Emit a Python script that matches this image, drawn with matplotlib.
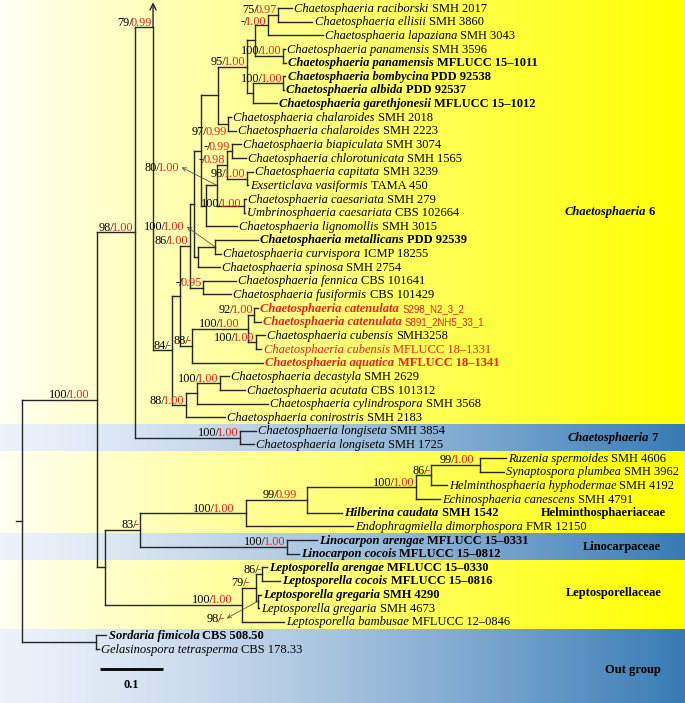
import matplotlib.pyplot as plt
import numpy as np
from matplotlib.collections import LineCollection

# ---- tip labels, top to bottom ----
taxa = [
    "Chaetosphaeria raciborski", "Chaetosphaeria ellisii", "Chaetosphaeria lapaziana",
    "Chaetosphaeria panamensis", "Chaetosphaeria panamensis", "Chaetosphaeria bombycina",
    "Chaetosphaeria albida", "Chaetosphaeria garethjonesii", "Chaetosphaeria chalaroides",
    "Chaetosphaeria chalaroides", "Chaetosphaeria biapiculata", "Chaetosphaeria chlorotunicata",
    "Chaetosphaeria capitata", "Exserticlava vasiformis", "Chaetosphaeria caesariata",
    "Umbrinosphaeria caesariata", "Chaetosphaeria lignomollis", "Chaetosphaeria metallicans",
    "Chaetosphaeria curvispora", "Chaetosphaeria spinosa", "Chaetosphaeria fennica",
    "Chaetosphaeria fusiformis", "Chaetosphaeria catenulata", "Chaetosphaeria catenulata",
    "Chaetosphaeria cubensis", "Chaetosphaeria cubensis", "Chaetosphaeria aquatica",
    "Chaetosphaeria decastyla", "Chaetosphaeria acutata", "Chaetosphaeria cylindrospora",
    "Chaetosphaeria conirostris", "Chaetosphaeria longiseta", "Chaetosphaeria longiseta",
    "Ruzenia spermoides", "Synaptospora plumbea", "Helminthosphaeria hyphodermae",
    "Echinosphaeria canescens", "Hilberina caudata", "Endophragmiella dimorphospora",
    "Linocarpon arengae", "Linocarpon cocois", "Leptosporella arengae", "Leptosporella cocois",
    "Leptosporella gregaria", "Leptosporella gregaria", "Leptosporella bambusae",
    "Sordaria fimicola", "Gelasinospora tetrasperma",
]
strains = [
    "SMH 2017", "SMH 3860", "SMH 3043", "SMH 3596", "MFLUCC 15\u20131011", "PDD 92538",
    "PDD 92537", "MFLUCC 15\u20131012", "SMH 2018", "SMH 2223", "SMH 3074", "SMH 1565",
    "SMH 3239", "TAMA 450", "SMH 279", "CBS 102664", "SMH 3015", "PDD 92539",
    "ICMP 18255", "SMH 2754", "CBS 101641", "CBS 101429", "S298_N2_3_2", "S891_2NH5_33_1",
    "SMH3258", "MFLUCC 18\u20131331", "MFLUCC 18\u20131341", "SMH 2629", "CBS 101312", "SMH 3568",
    "SMH 2183", "SMH 3854", "SMH 1725", "SMH 4606", "SMH 3962", "SMH 4192", "SMH 4791",
    "SMH 1542", "FMR 12150", "MFLUCC 15\u20130331", "MFLUCC 15\u20130812", "MFLUCC 15\u20130330",
    "MFLUCC 15\u20130816", "SMH 4290", "SMH 4673", "MFLUCC 12\u20130846", "CBS 508.50", "CBS 178.33",
]
# n plain, b bold, c red bold + sans code, s red plain, r red bold
kinds = list("nnnn" + "bbbb" + "nnnnnnnnn" + "b" + "nnnn" + "cc" + "n" + "s" + "r"
             + "nnnnnnnnnn" + "b" + "n" + "bbbbb" + "nn" + "b" + "n")

# ---- tree: (child, parent, branch length) ----
edges = [
    ("I", "R", 0.119), ("O", "R", 0.117), (46, "O", 0.017), (47, "O", 0.005),
    ("C", "I", 0.060), ("HLL", "I", 0.013),
    ("N79", "C", 0.029), ("Nlong", "C", 0.167), (31, "Nlong", 0.025), (32, "Nlong", 0.022),
    ("N84", "N79", 0.030),
    ("N180", "N84", 0.013), ("N88b", "N84", 0.022),
    ("N190", "N180", 0.016), ("N88m", "N180", 0.019),
    ("Ntop", "N190", 0.006), ("Nfen", "N190", 0.021),
    ("N97", "Ntop", 0.011), ("Nms", "Ntop", 0.006),
    ("Q", "N97", 0.027), ("Nm3", "N97", 0.008),
    ("P3", "Q", 0.046), ("Nchal", "Q", 0.016),
    ("P1", "P3", 0.013), ("P2", "P3", 0.010),
    ("Nrel", "P1", 0.021), ("Npan", "P1", 0.044),
    ("N75", "Nrel", 0.016), (2, "Nrel", 0.086),
    (0, "N75", 0.022), (1, "N75", 0.054),
    (3, "Npan", 0.003), (4, "Npan", 0.005),
    ("Nba", "P2", 0.048), (7, "P2", 0.037),
    (5, "Nba", 0.003), (6, "Nba", 0.001),
    (8, "Nchal", 0.005), (9, "Nchal", 0.013),
    ("Nm2", "Nm3", 0.017), (16, "Nm3", 0.049),
    ("Nm1", "Nm2", 0.016), ("Ncu", "Nm2", 0.044),
    ("Nbc", "Nm1", 0.008), ("Nce", "Nm1", 0.032),
    (10, "Nbc", 0.014), (11, "Nbc", 0.022),
    (12, "Nce", 0.010), (13, "Nce", 0.002),
    (14, "Ncu", 0.003), (15, "Ncu", 0.001),
    ("Nmc", "Nms", 0.027), (19, "Nms", 0.035),
    (17, "Nmc", 0.068), (18, "Nmc", 0.010),
    (20, "Nfen", 0.051), (21, "Nfen", 0.044),
    ("Ncc", "N88m", 0.089), (26, "N88m", 0.113),
    ("Ncat", "Ncc", 0.010), ("Ncub", "Ncc", 0.013),
    (22, "Ncat", 0.006), (23, "Ncat", 0.010),
    (24, "Ncub", 0.014), (25, "Ncub", 0.008),
    ("Ndac", "N88b", 0.017), (30, "N88b", 0.062),
    ("Nda", "Ndac", 0.037), (29, "Ndac", 0.113),
    (27, "Nda", 0.014), (28, "Nda", 0.040),
    ("N83", "HLL", 0.056), ("Nlep", "HLL", 0.217),
    ("Nhelm", "N83", 0.167), ("Nlino", "N83", 0.232),
    ("N99", "Nhelm", 0.097), (38, "Nhelm", 0.170),
    ("N100b", "N99", 0.173), (37, "N99", 0.056),
    ("N86c", "N100b", 0.024), (36, "N100b", 0.038),
    ("N99r", "N86c", 0.078), (35, "N86c", 0.025),
    (33, "N99r", 0.041), (34, "N99r", 0.038),
    (39, "Nlino", 0.048), (40, "Nlino", 0.019),
    ("N79l", "Nlep", 0.022), (45, "Nlep", 0.067),
    ("N86l", "N79l", 0.010), ("N98", "N79l", 0.003),
    (41, "N86l", 0.008), (42, "N86l", 0.029),
    (43, "N98", 0.005), (44, "N98", 0.002),
]
anchor = {"N79": 1.4}   # node drawn high up, with the arrow

# ---- bootstrap / posterior probability ----
supports = {
    "I": ("100", "1.00"), "C": ("98", "1.00"), "N79": ("79", "0.99"), "Nlong": ("100", "1.00"),
    "N84": ("84", "-"), "N88b": ("88", "1.00"), "N190": ("86", "1.00"), "N88m": ("88", "-"),
    "Nfen": ("-", "0.95"), "Nchal": ("97", "0.99"), "P3": ("95", "1.00"), "Nrel": ("-", "1.00"),
    "N75": ("75", "0.97"), "Npan": ("100", "1.00"), "Nba": ("100", "1.00"), "Nm2": ("80", "1.00"),
    "Nm1": ("-", "0.98"), "Nbc": ("-", "0.99"), "Nce": ("98", "1.00"), "Ncu": ("100", "1.00"),
    "Nmc": ("100", "1.00"), "Ncc": ("100", "1.00"), "Ncat": ("92", "1.00"), "Ncub": ("100", "1.00"),
    "Nda": ("100", "1.00"), "N83": ("83", "-"), "Nhelm": ("100", "1.00"), "N99": ("99", "0.99"),
    "N100b": ("100", "1.00"), "N86c": ("86", "-"), "N99r": ("99", "1.00"), "Nlino": ("100", "1.00"),
    "Nlep": ("100", "1.00"), "N79l": ("79", "-"), "N86l": ("86", "-"), "N98": ("98", "-"),
}
label_shift = {"I": (-6, 0), "Nchal": (0, 13), "Ncu": (-1, 3), "Ncc": (-7, 0), "Nhelm": (-10, 0),
               "N99": (-8, 0), "N99r": (-4, 0), "Nlep": (-8, 0), "N79l": (-6, 0), "Nrel": (0, 1.5),
               "Nm2": (-36, -13), "Nmc": (-29, -15), "N98": (-32, 22)}
arrowed = ["Nm2", "Nmc", "N98"]

# ---- coloured bands (row boundaries) and group names ----
band_edges = [30.5, 32.5, 38.5, 40.5, 45.5]
band_kinds = ["y", "b", "y", "b", "y", "b"]
groups = [
    ("Chaetosphaeria", " 6", 565, 14.96),
    ("Chaetosphaeria", " 7", 568, 31.5),
    ("", "Helminthosphaeriaceae", 541, 37.0),
    ("", "Linocarpaceae", 583, 39.5),
    ("", "Leptosporellaceae", 566, 42.9),
    ("", "Out group", 605, 48.5),
]

SERIF = "Liberation Serif"
SANS = "Liberation Sans"
RED = "#e8231f"
LINE = "#262626"
PX = 1 / 630.0      # tree units per pixel (0.1 = 63 px)
ROW = 1 / 13.64     # rows per pixel

children, length = {}, {}
for c, p, l in edges:
    children.setdefault(p, []).append(c)
    length[c] = l

xpos = {"R": 0.0}
def place_x(n):
    for c in children.get(n, []):
        xpos[c] = xpos[n] + length[c]
        place_x(c)
place_x("R")

ypos = {}
def place_y(n):
    if isinstance(n, int):
        ypos[n] = n
        return n
    ys = [place_y(c) for c in children[n]]
    ypos[n] = anchor.get(n, (min(ys) + max(ys)) / 2)
    return ypos[n]
place_y("R")

fig = plt.figure(figsize=(6.85, 7.03), dpi=100)
ax = fig.add_axes([0, 0, 1, 1])
x0, x1 = -22 * PX, 663 * PX
y_bot, y_top = 695 * ROW, -8 * ROW
ax.set_xlim(x0, x1)
ax.set_ylim(y_bot, y_top)
ax.axis("off")

# background gradients
W, H = 685, 703
t = np.linspace(0, 1, W)
yellow = np.stack([np.ones(W), np.ones(W), 0.96 * (1 - t ** 0.95)], axis=1)
b0, b1 = np.array([0.93, 0.95, 0.98]), np.array([0.22, 0.48, 0.71])
f = t[:, None] ** 1.3
blue = b0 * (1 - f) + b1 * f
img = np.zeros((H, W, 3))
for r in range(H):
    row = y_top + (r + 0.5) * ROW
    k = band_kinds[int(np.searchsorted(band_edges, row))]
    img[r] = yellow if k == "y" else blue
ax.imshow(img, extent=(x0, x1, y_bot, y_top), aspect="auto", zorder=0, interpolation="bilinear")

# branches
segs = []
for c, p, l in edges:
    segs.append([(xpos[p], ypos[c]), (xpos[c], ypos[c])])
for n, ch in children.items():
    ys = [ypos[c] for c in ch] + [ypos[n]]
    segs.append([(xpos[n], min(ys)), (xpos[n], max(ys))])
segs.append([(xpos["R"] - 6 * PX, ypos["R"]), (xpos["R"], ypos["R"])])
ax.add_collection(LineCollection(segs, colors=LINE, linewidths=1.0, capstyle="projecting", zorder=2))
ax.annotate("", xy=(xpos["N79"], -0.42), xytext=(xpos["N79"], ypos["N79"]),
            arrowprops=dict(arrowstyle="->", color=LINE, lw=1.0, shrinkA=0, shrinkB=0,
                            mutation_scale=11), zorder=2)

renderer = fig.canvas.get_renderer()
inv = ax.transData.inverted()
def edge_x(txt, side):
    bb = txt.get_window_extent(renderer)
    return inv.transform((bb.x0 if side == "left" else bb.x1, bb.y0))[0]

# tip labels
for i, (name, strain, k) in enumerate(zip(taxa, strains, kinds)):
    x = xpos[i] + 2.2 * PX
    y = i + 3.6 * ROW
    bold = k in "bcr"
    col = RED if k in "csr" else "black"
    tn = ax.text(x, y, name, style="italic", weight="bold" if bold else "normal",
                 color=col, family=SERIF, fontsize=9, ha="left", va="baseline", zorder=3)
    xs = edge_x(tn, "right") + 3.1 * PX
    if k == "c":
        ax.text(xs, y, strain, color=RED, family=SANS, fontsize=7, ha="left", va="baseline", zorder=3)
    else:
        ax.text(xs, y, strain, weight="bold" if bold else "normal", color=col,
                family=SERIF, fontsize=9, ha="left", va="baseline", zorder=3)

# support values
for node, (bs, pp) in supports.items():
    dx, dy = label_shift.get(node, (0, 0))
    x = xpos[node] + (dx - 1.5) * PX
    y = ypos[node] + (dy - 1.5) * ROW
    tr = ax.text(x, y, pp, color=RED, family=SERIF, fontsize=8.8, ha="right", va="baseline", zorder=3)
    ax.text(edge_x(tr, "left") + 2.5 * PX, y, bs + "/", color="black", family=SERIF, fontsize=8.8,
            ha="right", va="baseline", zorder=3)
    if node in arrowed:
        ax.annotate("", xy=(x + 2.5 * PX, y - 3.5 * ROW), xytext=(xpos[node], ypos[node]),
                    arrowprops=dict(arrowstyle="->", color="#555555", lw=0.6, shrinkA=0,
                                    shrinkB=0, mutation_scale=7), zorder=3)

# group names
for ital, rest, xp, yr in groups:
    x = (xp - 22) * PX
    if ital:
        ti = ax.text(x, yr, ital, style="italic", weight="bold", family=SERIF, fontsize=9,
                     ha="left", va="center", zorder=3)
        x = edge_x(ti, "right")
    ax.text(x, yr, rest, weight="bold", family=SERIF, fontsize=9, ha="left", va="center", zorder=3)

# scale bar
sb_x = (100 - 22) * PX
sb_y = (669 - 8) * ROW
ax.plot([sb_x, sb_x + 0.1], [sb_y, sb_y], color="black", lw=2.0, solid_capstyle="butt", zorder=3)
ax.text(sb_x + 0.05, (685 - 8) * ROW, "0.1", weight="bold", family=SERIF, fontsize=9,
        ha="center", va="center", zorder=3)

fig.savefig("out.png", dpi=100)
